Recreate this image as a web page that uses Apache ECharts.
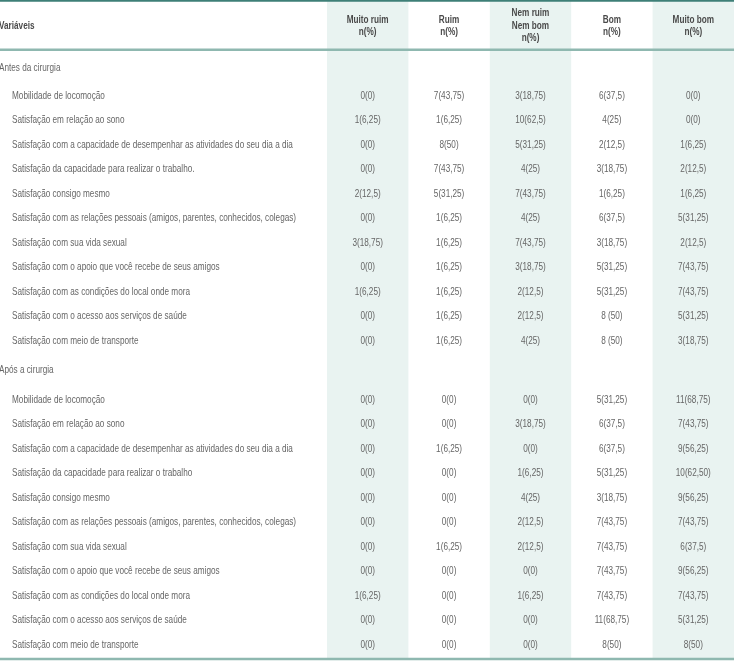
<!DOCTYPE html>
<html>
<head>
<meta charset="utf-8">
<script src="https://cdn.jsdelivr.net/npm/echarts@6/dist/echarts.min.js"></script>
<style>html,body{margin:0;padding:0;background:#fff}#c{width:734px;height:661px}</style>
</head>
<body>
<div id="c"></div>
<script>
// ---- data ----
const columnHeaders = ['Muito ruim\nn(%)', 'Ruim\nn(%)', 'Nem ruim\nNem bom\nn(%)', 'Bom\nn(%)', 'Muito bom\nn(%)'];
const firstHeader = 'Variáveis';
const groups = ['Antes da cirurgia', 'Após a cirurgia'];
const rowsBefore = [
  'Mobilidade de locomoção',
  'Satisfação em relação ao sono',
  'Satisfação com a capacidade de desempenhar as atividades do seu dia a dia',
  'Satisfação da capacidade para realizar o trabalho.',
  'Satisfação consigo mesmo',
  'Satisfação com as relações pessoais (amigos, parentes, conhecidos, colegas)',
  'Satisfação com sua vida sexual',
  'Satisfação com o apoio que você recebe de seus amigos',
  'Satisfação com as condições do local onde mora',
  'Satisfação com o acesso aos serviços de saúde',
  'Satisfação com meio de transporte'
];
const rowsAfter = [
  'Mobilidade de locomoção',
  'Satisfação em relação ao sono',
  'Satisfação com a capacidade de desempenhar as atividades do seu dia a dia',
  'Satisfação da capacidade para realizar o trabalho',
  'Satisfação consigo mesmo',
  'Satisfação com as relações pessoais (amigos, parentes, conhecidos, colegas)',
  'Satisfação com sua vida sexual',
  'Satisfação com o apoio que você recebe de seus amigos',
  'Satisfação com as condições do local onde mora',
  'Satisfação com o acesso aos serviços de saúde',
  'Satisfação com meio de transporte'
];
const valuesBefore = [
  ['0(0)', '7(43,75)', '3(18,75)', '6(37,5)', '0(0)'],
  ['1(6,25)', '1(6,25)', '10(62,5)', '4(25)', '0(0)'],
  ['0(0)', '8(50)', '5(31,25)', '2(12,5)', '1(6,25)'],
  ['0(0)', '7(43,75)', '4(25)', '3(18,75)', '2(12,5)'],
  ['2(12,5)', '5(31,25)', '7(43,75)', '1(6,25)', '1(6,25)'],
  ['0(0)', '1(6,25)', '4(25)', '6(37,5)', '5(31,25)'],
  ['3(18,75)', '1(6,25)', '7(43,75)', '3(18,75)', '2(12,5)'],
  ['0(0)', '1(6,25)', '3(18,75)', '5(31,25)', '7(43,75)'],
  ['1(6,25)', '1(6,25)', '2(12,5)', '5(31,25)', '7(43,75)'],
  ['0(0)', '1(6,25)', '2(12,5)', '8 (50)', '5(31,25)'],
  ['0(0)', '1(6,25)', '4(25)', '8 (50)', '3(18,75)']
];
const valuesAfter = [
  ['0(0)', '0(0)', '0(0)', '5(31,25)', '11(68,75)'],
  ['0(0)', '0(0)', '3(18,75)', '6(37,5)', '7(43,75)'],
  ['0(0)', '1(6,25)', '0(0)', '6(37,5)', '9(56,25)'],
  ['0(0)', '0(0)', '1(6,25)', '5(31,25)', '10(62,50)'],
  ['0(0)', '0(0)', '4(25)', '3(18,75)', '9(56,25)'],
  ['0(0)', '0(0)', '2(12,5)', '7(43,75)', '7(43,75)'],
  ['0(0)', '1(6,25)', '2(12,5)', '7(43,75)', '6(37,5)'],
  ['0(0)', '0(0)', '0(0)', '7(43,75)', '9(56,25)'],
  ['1(6,25)', '0(0)', '1(6,25)', '7(43,75)', '7(43,75)'],
  ['0(0)', '0(0)', '0(0)', '11(68,75)', '5(31,25)'],
  ['0(0)', '0(0)', '0(0)', '8(50)', '8(50)']
];
const shadedColumns = [0, 2, 4];

// ---- layout (row units on y axis, column units on x axis) ----
const LABEL_COLS = 4.017;     // width of the label column in column units
const Y_MAX = 27.03;
const HEADER_Y = 1.06, HEADER_LINE = 2.03, TOP_LINE = 0.03, BOTTOM_LINE = 26.95;
const GROUP_GAP_BEFORE = 0.75, GROUP_TO_ROW = 1.15, ROW_STEP = 1.0, LAST_TO_GROUP = 1.2, GROUP2_TO_ROW = 1.23;

const cellData = [], labelData = [], groupData = [];
let y = HEADER_LINE + GROUP_GAP_BEFORE;
[[rowsBefore, valuesBefore], [rowsAfter, valuesAfter]].forEach(([rows, vals], g) => {
  groupData.push([-LABEL_COLS, y, groups[g]]);
  y += g === 0 ? GROUP_TO_ROW : GROUP2_TO_ROW;
  rows.forEach((r, i) => {
    labelData.push([-LABEL_COLS, y, r]);
    vals[i].forEach((v, c) => cellData.push([c + 0.5, y, v]));
    if (i < rows.length - 1) y += ROW_STEP;
  });
  y += LAST_TO_GROUP;
});
const headerData = columnHeaders.map((h, c) => [c + 0.5, HEADER_Y, h]);
headerData.push([-LABEL_COLS, HEADER_Y, firstHeader]);

const FONT = '"Liberation Sans", Arial, sans-serif';
const FS = 10.5;
const SX = 0.78;
const rules = [
  { y: TOP_LINE, w: 2, color: '#3e7f77' },
  { y: HEADER_LINE, w: 2.5, color: '#8fb8b0' },
  { y: BOTTOM_LINE, w: 2.5, color: '#8fb8b0' }
];

function txt(x, y, text, align, extra) {
  return Object.assign({ type: 'text', x: x, y: y, scaleX: SX, style: { text: text, align: align, verticalAlign: 'middle', font: FS + 'px ' + FONT, fill: '#666' } }, extra || {});
}

const chart = echarts.init(document.getElementById('c'), null, { renderer: 'canvas' });
chart.setOption({
  animation: false,
  grid: { left: 0, right: 0, top: 0, bottom: 0 },
  xAxis: { type: 'value', min: -LABEL_COLS, max: 5, show: false },
  yAxis: { type: 'value', min: 0, max: Y_MAX, inverse: true, show: false },
  series: [
    {
      type: 'custom', silent: true, z: 1,
      data: shadedColumns.map(c => [c]),
      renderItem: (params, api) => {
        const c = api.value(0);
        const p0 = api.coord([c, TOP_LINE]);
        const p1 = api.coord([c + 1, BOTTOM_LINE]);
        return { type: 'rect', shape: { x: p0[0], y: p0[1], width: p1[0] - p0[0], height: p1[1] - p0[1] }, style: { fill: '#e9f3f1' } };
      }
    },
    {
      type: 'custom', silent: true, z: 3,
      data: rules.map((r, i) => [i]),
      renderItem: (params, api) => {
        const r = rules[api.value(0)];
        const p0 = api.coord([-LABEL_COLS, r.y]);
        const p1 = api.coord([5, r.y]);
        return { type: 'line', shape: { x1: p0[0], y1: p0[1], x2: p1[0], y2: p1[1] }, style: { stroke: r.color, lineWidth: r.w } };
      }
    },
    {
      type: 'custom', silent: true, z: 4,
      data: cellData,
      renderItem: (params, api) => {
        const p = api.coord([api.value(0), api.value(1)]);
        return txt(p[0], p[1], cellData[params.dataIndex][2], 'center');
      }
    },
    {
      type: 'custom', silent: true, z: 4,
      data: labelData,
      renderItem: (params, api) => {
        const p = api.coord([api.value(0), api.value(1)]);
        return txt(p[0] + 12, p[1], labelData[params.dataIndex][2], 'left');
      }
    },
    {
      type: 'custom', silent: true, z: 4,
      data: groupData,
      renderItem: (params, api) => {
        const p = api.coord([api.value(0), api.value(1)]);
        return txt(p[0] - 1, p[1], groupData[params.dataIndex][2], 'left');
      }
    },
    {
      type: 'custom', silent: true, z: 4,
      data: headerData,
      renderItem: (params, api) => {
        const p = api.coord([api.value(0), api.value(1)]);
        const isFirst = api.value(0) < 0;
        const el = txt(isFirst ? p[0] - 1 : p[0], p[1], headerData[params.dataIndex][2], isFirst ? 'left' : 'center');
        el.style.lineHeight = 12.5;
        el.style.font = 'bold ' + FS + 'px ' + FONT;
        el.style.fill = '#4a4a4a';
        return el;
      }
    }
  ]
});
</script>
</body>
</html>
